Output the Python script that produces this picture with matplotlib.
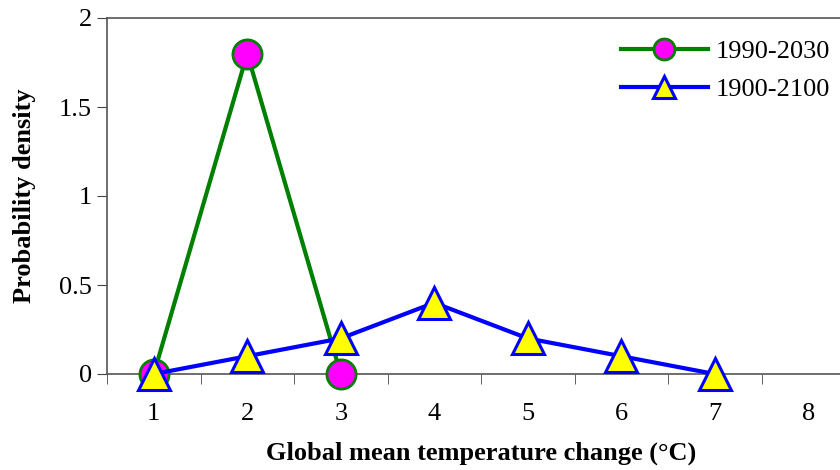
import matplotlib
matplotlib.use('Agg')
import matplotlib.pyplot as plt
import numpy as np

plt.rcParams['font.family'] = ['Liberation Serif', 'DejaVu Serif']

# temperature change categories (deg C)
temps = [1, 2, 3, 4, 5, 6, 7]
# probability density, 1990-2030
pd_2030 = [0, 1.8, 0]
# probability density, 1900-2100
pd_2100 = [0, 0.1, 0.2, 0.4, 0.2, 0.1, 0]
xticklabels = ['1', '2', '3', '4', '5', '6', '7', '8']

fig = plt.figure(figsize=(8.4, 4.7), dpi=100)
ax = fig.add_axes([107/840, 1 - 374/470, 748/840, 356/470])

ax.plot(temps[:3], pd_2030, '-', color='#008000', lw=3,
        marker='o', ms=21, mfc='#ff00ff', mec='#008000', mew=2,
        label='1990-2030', zorder=3, clip_on=False)
ax.plot(temps, pd_2100, '-', color='#0000ff', lw=3,
        marker='^', ms=23, mfc='#ffff00', mec='#0000ff', mew=2.2,
        label='1900-2100', zorder=4, clip_on=False)

ax.set_xlim(0.5, 8.5)
ax.set_ylim(0, 2)
ax.set_xticks(np.arange(1, 9))
ax.set_xticklabels(xticklabels)
ax.set_xticks(np.arange(0.5, 9, 1), minor=True)
ax.tick_params(axis='x', which='major', length=0, pad=21, labelsize=19)
ax.tick_params(axis='x', which='minor', length=7, direction='out', color='#444444')
ax.set_yticks([0, 0.5, 1, 1.5, 2])
ax.set_yticklabels(['0', '0.5', '1', '1.5', '2'])
ax.tick_params(axis='y', length=7, direction='out', labelsize=19, pad=4, color='#444444')

for s in ax.spines.values():
    s.set_color('#555555')
    s.set_linewidth(1.2)

ax.set_xlabel('Global mean temperature change (°C)', fontsize=19, fontweight='bold', labelpad=12)
ax.set_ylabel('Probability density', fontsize=19, fontweight='bold', labelpad=16)

leg = ax.legend(loc='upper left', bbox_to_anchor=(490/748, 1.005), frameon=False,
                fontsize=19, markerscale=0.72, handlelength=3.3, handletextpad=0.3,
                labelspacing=0.55)

plt.savefig('out.png', dpi=100)
